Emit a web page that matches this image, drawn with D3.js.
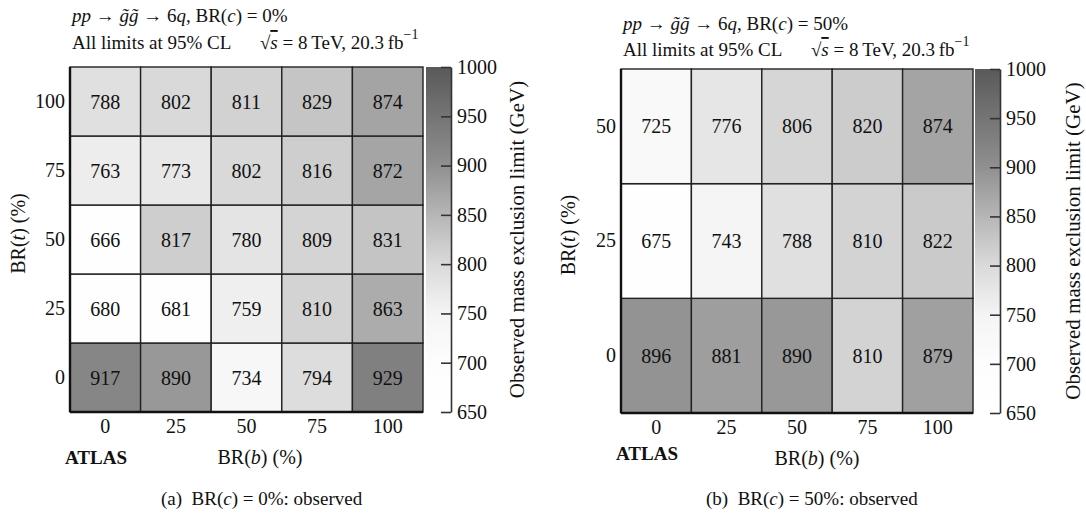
<!DOCTYPE html>
<html>
<head>
<meta charset="utf-8">
<script src="https://cdn.jsdelivr.net/npm/d3@7"></script>
<style>
  html, body { margin: 0; padding: 0; background: #fff; }
  svg, svg text { font-family: "Liberation Serif", "DejaVu Serif", serif !important; }
  svg text { fill: #111; }
</style>
</head>
<body>
<svg id="chart" width="1086" height="513" font-family="Liberation Serif"></svg>
<script>
// ---------------- data ----------------
const brB = [0, 25, 50, 75, 100];              // BR(b) (%) categories
const brT_a = [0, 25, 50, 75, 100];            // BR(t) (%) categories, panel (a)
const brT_b = [0, 25, 50];                     // BR(t) (%) categories, panel (b)
// observed limits (GeV), rows = BR(t) from 0 upwards, columns = BR(b)
const limitsA_t0   = [917, 890, 734, 794, 929];
const limitsA_t25  = [680, 681, 759, 810, 863];
const limitsA_t50  = [666, 817, 780, 809, 831];
const limitsA_t75  = [763, 773, 802, 816, 872];
const limitsA_t100 = [788, 802, 811, 829, 874];
const limitsB_t0   = [896, 881, 890, 810, 879];
const limitsB_t25  = [675, 743, 788, 810, 822];
const limitsB_t50  = [725, 776, 806, 820, 874];
const zTicks = [650, 700, 750, 800, 850, 900, 950, 1000];
const zDomain = [650, 1000];

const gridA = [limitsA_t0, limitsA_t25, limitsA_t50, limitsA_t75, limitsA_t100];
const gridB = [limitsB_t0, limitsB_t25, limitsB_t50];

// grayscale colour map
const color = d3.scaleLinear()
  .domain([650, 700, 750, 800, 850, 900, 950, 1000])
  .range(["#ffffff", "#fdfdfd", "#f4f4f4", "#dadada", "#b6b6b6", "#909090", "#747474", "#5a5a5a"])
  .clamp(true);

const FONT = "Liberation Serif";
const svg = d3.select("#chart");

function panel(cfg) {
  const { x0, x1, y0, y1, brT, grid, cbX, titleY1, titleY2, brc, capLabel, captionX, atlasY, xTitleX, xTitleY, yTitleX, cbLabelX } = cfg;
  const g = svg.append("g");
  const x = d3.scaleBand().domain(brB).range([x0, x1]).padding(0);
  const y = d3.scaleBand().domain(brT).range([y1, y0]).padding(0);

  const cells = [];
  grid.forEach((row, i) => row.forEach((v, j) => cells.push({ t: brT[i], b: brB[j], v })));

  g.selectAll("rect.cell").data(cells).enter().append("rect")
    .attr("class", "cell")
    .attr("x", d => x(d.b)).attr("y", d => y(d.t))
    .attr("width", x.bandwidth()).attr("height", y.bandwidth())
    .attr("fill", d => color(d.v))
    .attr("stroke", "#222").attr("stroke-width", 1.4);

  g.selectAll("text.val").data(cells).enter().append("text")
    .attr("class", "val")
    .attr("x", d => x(d.b) + x.bandwidth() / 2)
    .attr("y", d => y(d.t) + y.bandwidth() / 2)
    .attr("text-anchor", "middle").attr("dominant-baseline", "central")
    .attr("font-family", FONT)
    .style("font-size", "20px")
    .text(d => d.v);

  // axis spines (thicker)
  g.append("line").attr("x1", x0).attr("x2", x1).attr("y1", y1).attr("y2", y1)
    .attr("stroke", "#111").attr("stroke-width", 2.4);
  g.append("line").attr("x1", x0).attr("x2", x0).attr("y1", y0).attr("y2", y1)
    .attr("stroke", "#111").attr("stroke-width", 2.4);

  // x axis tick labels
  const xa = g.append("g").attr("transform", `translate(0,${y1})`)
    .call(d3.axisBottom(x).tickSize(0).tickPadding(7));
  xa.attr("font-family", FONT).attr("font-size", 20);
  xa.select(".domain").remove();
  xa.selectAll("text").attr("fill", "#111");

  // y axis tick labels
  const ya = g.append("g").attr("transform", `translate(${x0},0)`)
    .call(d3.axisLeft(y).tickSize(0).tickPadding(5));
  ya.attr("font-family", FONT).attr("font-size", 20);
  ya.select(".domain").remove();
  ya.selectAll("text").attr("fill", "#111");

  // colour bar
  const cbW = 25;
  const z = d3.scaleLinear().domain(zDomain).range([y1, y0]);
  const gid = "grad" + cbX;
  const grad = svg.append("defs").append("linearGradient").attr("id", gid)
    .attr("x1", 0).attr("x2", 0).attr("y1", 1).attr("y2", 0);
  d3.range(650, 1001, 10).forEach(v => {
    grad.append("stop").attr("offset", (v - 650) / 350).attr("stop-color", color(v));
  });
  g.append("rect").attr("x", cbX).attr("y", y0).attr("width", cbW).attr("height", y1 - y0)
    .attr("fill", `url(#${gid})`);
  const za = g.append("g").attr("transform", `translate(${cbX + cbW},0)`)
    .call(d3.axisRight(z).tickValues(zTicks).tickFormat(d3.format("d"))
      .tickSize(-10).tickPadding(6).tickSizeOuter(0));
  za.attr("font-family", FONT).attr("font-size", 20);
  za.select(".domain").attr("stroke", "#333").attr("stroke-width", 1.6);
  za.selectAll(".tick line").attr("stroke", "#333").attr("stroke-width", 1.6);
  za.selectAll("text").attr("fill", "#111");

  g.append("text")
    .attr("transform", `translate(${cbLabelX},${(y0 + y1) / 2}) rotate(-90)`)
    .attr("text-anchor", "middle").attr("dominant-baseline", "central")
    .style("font-size", "21px")
    .text("Observed mass exclusion limit (GeV)");

  // y title
  const yt = g.append("text")
    .attr("transform", `translate(${yTitleX},${(y0 + y1) / 2 - 6}) rotate(-90)`)
    .attr("text-anchor", "middle").attr("dominant-baseline", "central")
    .style("font-size", "20px");
  yt.append("tspan").text("BR(");
  yt.append("tspan").style("font-style", "italic").text("t");
  yt.append("tspan").text(") (%)");

  // x title
  const xt = g.append("text").attr("x", xTitleX).attr("y", xTitleY)
    .attr("text-anchor", "middle").attr("dominant-baseline", "central")
    .style("font-size", "20px");
  xt.append("tspan").text("BR(");
  xt.append("tspan").style("font-style", "italic").text("b");
  xt.append("tspan").text(") (%)");

  g.append("text").attr("x", x0 - 5).attr("y", atlasY).attr("dominant-baseline", "central")
    .style("font-size", "19px").style("font-weight", "bold").text("ATLAS");

  // title line 1
  const t1 = g.append("text").attr("x", x0 + 2).attr("y", titleY1).attr("dominant-baseline", "central")
    .style("font-size", "19px");
  t1.append("tspan").style("font-style", "italic").text("pp");
  t1.append("tspan").text(" \u2192 ");
  t1.append("tspan").style("font-style", "italic").text("g\u0303g\u0303");
  t1.append("tspan").text(" \u2192 6");
  t1.append("tspan").style("font-style", "italic").text("q");
  t1.append("tspan").text(", BR(");
  t1.append("tspan").style("font-style", "italic").text("c");
  t1.append("tspan").text(") = " + brc + "%");

  // title line 2
  const t2 = g.append("text").attr("x", x0 + 2).attr("y", titleY2).attr("dominant-baseline", "central")
    .style("font-size", "19px");
  t2.append("tspan").text("All limits at 95% CL\u2003\u2002\u221A");
  t2.append("tspan").style("font-style", "italic").style("text-decoration", "overline").text("s");
  t2.append("tspan").text(" = 8\u2009TeV, 20.3\u2009fb");
  t2.append("tspan").attr("dy", -8).style("font-size", "14px").text("\u22121");

  // caption
  const cap = g.append("text").attr("x", captionX).attr("y", 498).attr("dominant-baseline", "central")
    .style("font-size", "19px").attr("xml:space", "preserve");
  cap.append("tspan").text(capLabel + "\u2002BR(");
  cap.append("tspan").style("font-style", "italic").text("c");
  cap.append("tspan").text(") = " + brc + "%: observed");
}

panel({ x0: 70, x1: 423, y0: 67, y1: 412, brT: brT_a, grid: gridA, cbX: 426,
  titleY1: 15, titleY2: 42, brc: 0, capLabel: "(a)", captionX: 161,
  atlasY: 457, xTitleX: 260, xTitleY: 457, yTitleX: 18, cbLabelX: 517 });

panel({ x0: 621, x1: 973, y0: 69, y1: 413, brT: brT_b, grid: gridB, cbX: 975,
  titleY1: 23, titleY2: 49, brc: 50, capLabel: "(b)", captionX: 706,
  atlasY: 453, xTitleX: 817, xTitleY: 458, yTitleX: 568, cbLabelX: 1073 });
</script>
</body>
</html>
